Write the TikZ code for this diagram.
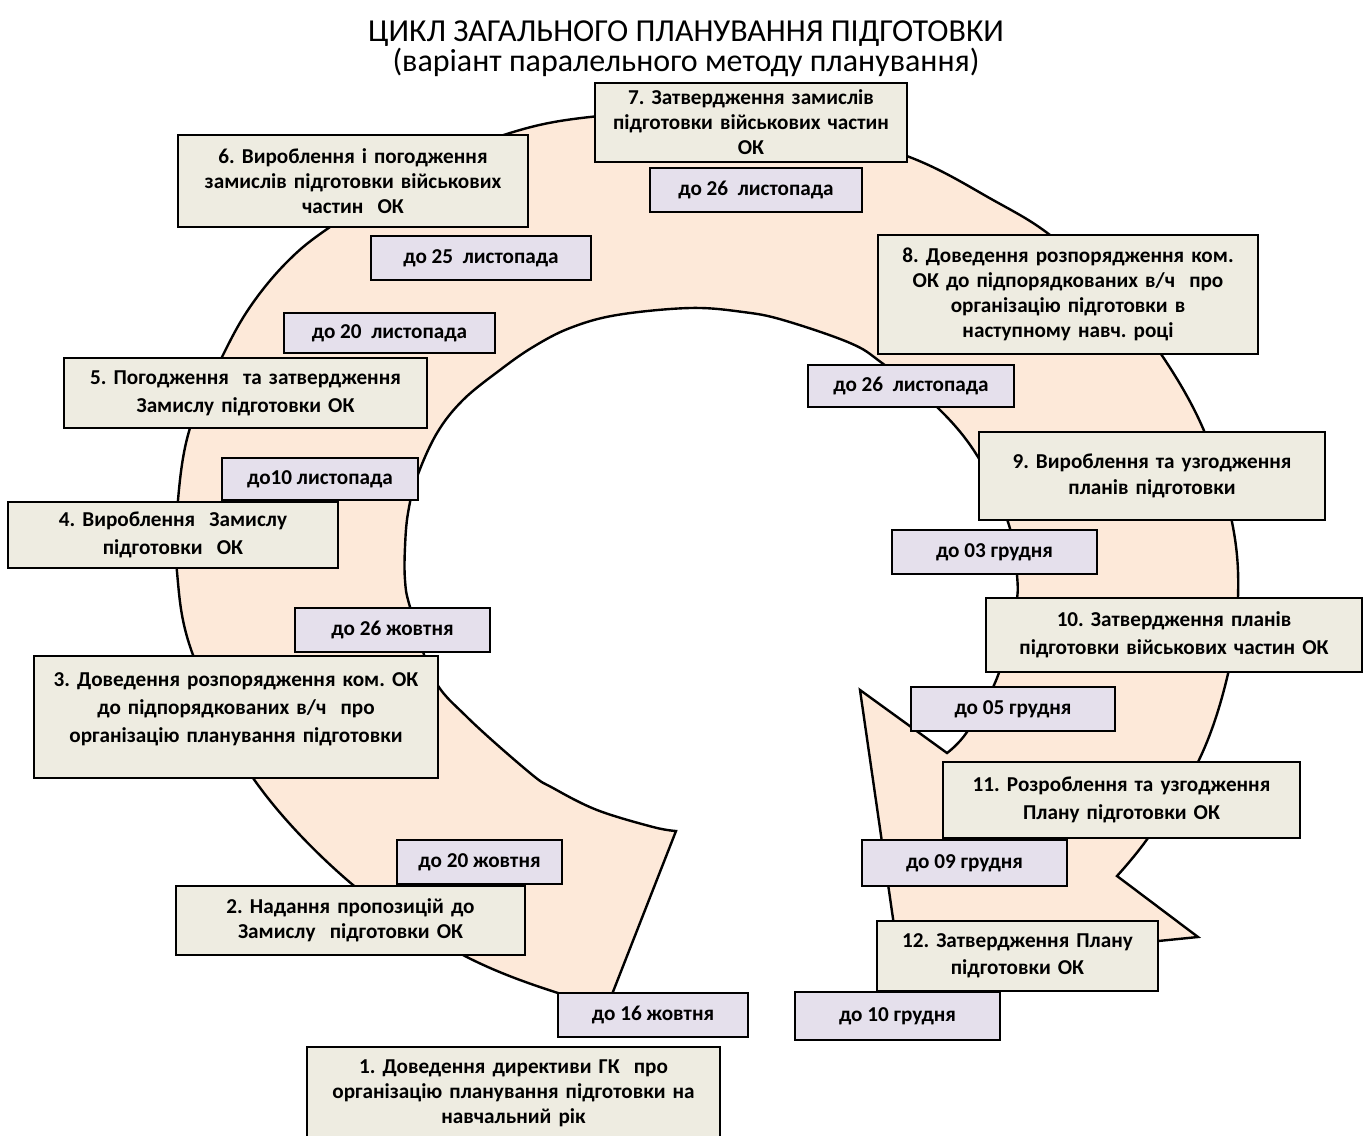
\documentclass[tikz,border=0pt]{standalone}
\usepackage{fontspec}
\setmainfont{Carlito}
\frenchspacing
\definecolor{bandfill}{HTML}{FDE9D9}
\definecolor{stepfill}{HTML}{EEECE1}
\definecolor{datefill}{HTML}{E5E0EC}
\tikzset{
  stepbox/.style={draw=black, line width=1pt, fill=stepfill, align=center, inner xsep=2pt, inner ysep=1pt, font=\fontsize{10.6}{12.5}\selectfont\bfseries},
  widestep/.style={stepbox, font=\fontsize{10.6}{14}\selectfont\bfseries},
  datebox/.style={draw=black, line width=1pt, fill=datefill, align=center, inner sep=1pt, font=\fontsize{10.6}{12}\selectfont\bfseries},
  band/.style={fill=bandfill, draw=black, line width=1.2pt, line join=miter}
}
\begin{document}
\begin{tikzpicture}[x=0.5pt, y=-0.5pt]
\useasboundingbox (0,0) rectangle (1370,1135);

\node [font=\fontsize{16}{16}\selectfont] (t1) at (686,34) {ЦИКЛ ЗАГАЛЬНОГО ПЛАНУВАННЯ ПІДГОТОВКИ};
\node [font=\fontsize{16}{16}\selectfont] (t2) at (686,62) {(варіант паралельного методу планування)};

\filldraw [band] (676,831) -- (609,1002)
    -- plot [smooth, tension=0.6] coordinates {(609,1002) (558,993) (463,955) (353,885) (253,778) (193,655) (177,572) (178,500) (190,428) (222,357) (250,307) (287,262) (330,227) (420,170) (510,133) (590,117) (700,112) (800,124) (912,158) (993,200) (1050,235) (1110,290) (1163,357) (1205,433) (1232,522) (1238,597) (1227,678) (1198,762) (1148,838) (1117,876)}
    -- (1198,937) -- (900,967) -- (860,690) -- (947,753)
    -- plot [smooth, tension=0.6] coordinates {(947,753) (967,732) (997,678) (1015,610) (1017,575) (1008,522) (978,457) (938,408) (882,363) (850,343) (783,320) (743,312) (690,308) (617,315) (570,328) (533,347) (500,370) (463,400) (437,433) (417,477) (408,513) (405,547) (405,580) (410,607) (433,677) (467,717) (530,773) (553,788) (597,810) (653,827) (676,831)}
    -- cycle;

\node [stepbox, text width=152pt, minimum height=39.5pt] (s7) at (751,122.5) {7. Затвердження замислів\\ підготовки військових частин\\ ОК};
\node [datebox, minimum width=106pt, minimum height=22pt] (d7) at (756,190) {до 26\ \ листопада};

\node [stepbox, text width=171pt, minimum height=46pt] (s6) at (353,181) {6. Вироблення і погодження\\ замислів підготовки військових\\ частин\ \ ОК};
\node [datebox, minimum width=110pt, minimum height=22pt] (d6) at (481,258) {до 25\ \ листопада};

\node [stepbox, text width=186pt, minimum height=59.5pt] (s8) at (1068,294.5) {8. Доведення розпорядження ком.\\ ОК до підпорядкованих в/ч\ \ про\\ організацію підготовки в\\ наступному навч. році};

\node [datebox, minimum width=105.5pt, minimum height=20pt] (d5) at (389.5,333) {до 20\ \ листопада};
\node [widestep, text width=177.5pt, minimum height=35pt] (s5) at (245.5,393) {5. Погодження\ \ та затвердження\\ Замислу підготовки ОК};

\node [datebox, minimum width=103pt, minimum height=21pt] (d8) at (911,386) {до 26\ \ листопада};
\node [stepbox, font=\fontsize{10.6}{13}\selectfont\bfseries, text width=169pt, minimum height=44pt] (s9) at (1152,476) {9. Вироблення та узгодження\\ планів підготовки};

\node [datebox, minimum width=98pt, minimum height=21pt] (d4) at (320,479) {до10 листопада};
\node [widestep, text width=161pt, minimum height=33pt] (s4) at (173,535) {4. Вироблення\ \ Замислу\\ підготовки\ \ ОК};

\node [datebox, minimum width=102.5pt, minimum height=22pt] (d9) at (994.5,552) {до 03 грудня};
\node [widestep, text width=184pt, minimum height=37pt] (s10) at (1174,635) {10. Затвердження планів\\ підготовки військових частин ОК};

\node [datebox, minimum width=97.5pt, minimum height=22pt] (d3) at (392.5,630) {до 26 жовтня};
\node [widestep, text width=198pt, minimum height=61pt] (s3) at (236,717) {3. Доведення розпорядження ком. ОК\\ до підпорядкованих в/ч\ \ про\\ організацію планування підготовки\\[-5pt]\mbox{}};

\node [datebox, minimum width=102pt, minimum height=22pt] (d10) at (1013,709) {до 05 грудня};
\node [widestep, text width=174.5pt, minimum height=38pt] (s11) at (1121.5,800) {11. Розроблення та узгодження\\ Плану підготовки ОК};

\node [datebox, minimum width=82.5pt, minimum height=22pt] (d2) at (479.5,862) {до 20 жовтня};
\node [stepbox, text width=170.5pt, minimum height=34.5pt] (s2) at (350.5,920.5) {2. Надання пропозицій до\\ Замислу\ \ підготовки ОК};

\node [datebox, minimum width=102.5pt, minimum height=23pt] (d11) at (964.5,863) {до 09 грудня};
\node [stepbox, font=\fontsize{10.6}{13.5}\selectfont\bfseries, text width=136.5pt, minimum height=35pt] (s12) at (1017.5,956) {12. Затвердження Плану\\ підготовки ОК};

\node [datebox, minimum width=95pt, minimum height=22pt] (d1) at (653,1015) {до 16 жовтня};
\node [datebox, minimum width=102.5pt, minimum height=24pt] (d12) at (897.5,1016) {до 10 грудня};

\node [stepbox, text width=202.5pt, minimum height=46.5pt] (s1) at (513.5,1093.5) {1. Доведення директиви ГК\ \ про\\ організацію планування підготовки на\\ навчальний рік};
\end{tikzpicture}
\end{document}
